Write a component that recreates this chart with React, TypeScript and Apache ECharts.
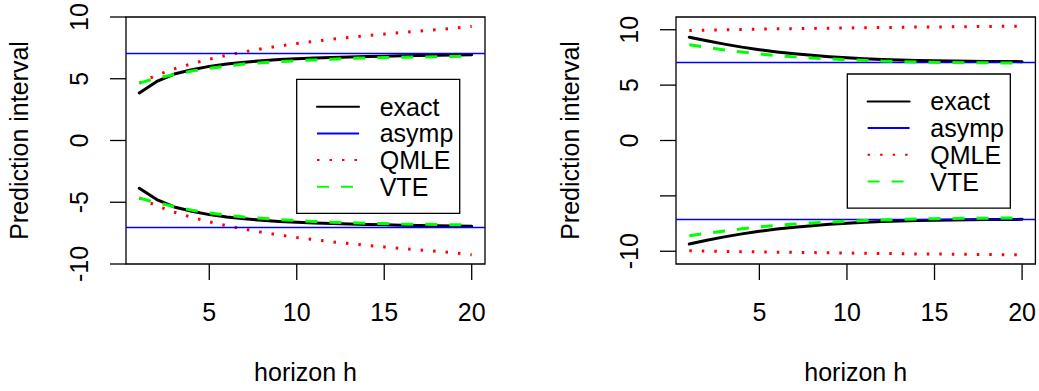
import React, { useEffect, useRef } from "react";
import * as echarts from "echarts";

// ---- data ----
const horizon = [1, 2, 3, 4, 5, 6, 7, 8, 9, 10, 11, 12, 13, 14, 15, 16, 17, 18, 19, 20];
const legendNames = ["exact", "asymp", "QMLE", "VTE"];
const xTicks = [5, 10, 15, 20];
const yTicks = [-10, -5, 0, 5, 10];
const yLabelsLeft = [-10, -5, 0, 5, 10];
const yLabelsRight = [-10, 0, 5, 10];

// left panel
const exactUpL = [3.85, 4.78, 5.38, 5.73, 6.0, 6.19, 6.34, 6.46, 6.55, 6.62, 6.68, 6.73, 6.77, 6.8, 6.83, 6.86, 6.88, 6.9, 6.92, 6.94];
const exactLoL = [-3.87, -4.78, -5.38, -5.73, -6.0, -6.19, -6.34, -6.46, -6.55, -6.62, -6.68, -6.73, -6.77, -6.8, -6.83, -6.86, -6.88, -6.9, -6.92, -6.94];
const qmleUpL = [4.65, 5.3, 5.8, 6.22, 6.58, 6.9, 7.18, 7.43, 7.65, 7.85, 8.03, 8.2, 8.35, 8.49, 8.62, 8.74, 8.86, 8.97, 9.1, 9.24];
const qmleLoL = [-4.65, -5.3, -5.8, -6.22, -6.58, -6.9, -7.18, -7.43, -7.65, -7.85, -8.03, -8.2, -8.35, -8.49, -8.62, -8.74, -8.86, -8.97, -9.1, -9.26];
const vteUpL = [4.65, 5.05, 5.35, 5.62, 5.85, 6.03, 6.19, 6.29, 6.38, 6.46, 6.52, 6.58, 6.64, 6.69, 6.72, 6.74, 6.76, 6.79, 6.81, 6.83];
const vteLoL = [-4.67, -5.05, -5.35, -5.64, -5.87, -6.05, -6.2, -6.3, -6.4, -6.48, -6.55, -6.61, -6.66, -6.7, -6.73, -6.76, -6.78, -6.8, -6.82, -6.83];
const asympL = [7.06, -7.06];

// right panel
const exactUpR = [9.33, 9.0, 8.7, 8.43, 8.2, 8.0, 7.83, 7.69, 7.57, 7.47, 7.39, 7.32, 7.27, 7.23, 7.2, 7.17, 7.15, 7.14, 7.13, 7.12];
const exactLoR = [-9.35, -9.0, -8.7, -8.43, -8.2, -8.0, -7.83, -7.69, -7.57, -7.47, -7.39, -7.32, -7.27, -7.23, -7.2, -7.17, -7.15, -7.14, -7.13, -7.12];
const qmleUpR = [9.93, 9.97, 10.0, 10.03, 10.06, 10.08, 10.1, 10.12, 10.14, 10.16, 10.18, 10.2, 10.22, 10.24, 10.25, 10.27, 10.28, 10.3, 10.31, 10.32];
const qmleLoR = [-9.95, -9.98, -10.01, -10.04, -10.06, -10.08, -10.1, -10.12, -10.14, -10.16, -10.18, -10.2, -10.22, -10.24, -10.25, -10.27, -10.28, -10.3, -10.31, -10.33];
const vteUpR = [8.64, 8.4, 8.18, 7.98, 7.81, 7.67, 7.55, 7.45, 7.36, 7.29, 7.23, 7.17, 7.13, 7.09, 7.06, 7.04, 7.02, 7.01, 7.0, 7.0];
const vteLoR = [-8.6, -8.38, -8.17, -7.97, -7.8, -7.66, -7.54, -7.44, -7.36, -7.29, -7.23, -7.17, -7.13, -7.09, -7.06, -7.04, -7.02, -7.01, -7.0, -7.0];
const asympR = [7.08, -7.08];

// axis limits (R's 4% padding around the data range)
const xLim = [0.24, 20.76];
const yLimL = [-10, 10];
const yLimR = [-11.15, 11.15];

const FONT = '"Liberation Sans", Arial, Helvetica, sans-serif';
const BLACK = "#000000";
const BLUE = "#0000ff";
const RED = "#ff0000";
const GREEN = "#00ff00";
const TICK_LEN = 16;

const GRIDS = [
  { left: 126, top: 17, width: 359, height: 247 },
  { left: 676, top: 17, width: 360, height: 247 },
];

const pts = (vals: number[]) => horizon.map((h, i) => [h, vals[i]]);

function panelSeries(idx: number, exU: number[], exL: number[], asy: number[], qU: number[], qL: number[], vU: number[], vL: number[]) {
  const base = { type: "line", xAxisIndex: idx, yAxisIndex: idx, showSymbol: false, symbol: "none", silent: true };
  const exactStyle = { color: BLACK, width: 3, type: "solid", cap: "round", join: "round" };
  const qmleStyle = { color: RED, width: 3, type: [2.5, 10], cap: "butt" };
  const vteStyle = { color: GREEN, width: 3, type: [12, 12], cap: "butt" };
  return [
    { ...base, name: "exact", color: BLACK, lineStyle: exactStyle, data: pts(exU), z: 2 },
    { ...base, name: "exact", color: BLACK, lineStyle: exactStyle, data: pts(exL), z: 2 },
    {
      ...base,
      name: "asymp",
      color: BLUE,
      lineStyle: { color: BLUE, width: 1.4, type: "solid" },
      data: [],
      z: 3,
      markLine: {
        silent: true,
        symbol: ["none", "none"],
        label: { show: false },
        lineStyle: { color: BLUE, width: 1.4, type: "solid" },
        data: asy.map((v) => ({ yAxis: v })),
      },
    },
    { ...base, name: "QMLE", color: RED, lineStyle: qmleStyle, data: pts(qU), z: 4 },
    { ...base, name: "QMLE", color: RED, lineStyle: qmleStyle, data: pts(qL), z: 4 },
    { ...base, name: "VTE", color: GREEN, lineStyle: vteStyle, data: pts(vU), z: 5 },
    { ...base, name: "VTE", color: GREEN, lineStyle: vteStyle, data: pts(vL), z: 5 },
  ];
}

function xAxisFor(idx: number) {
  return {
    type: "value",
    gridIndex: idx,
    min: xLim[0],
    max: xLim[1],
    position: "bottom",
    axisLine: { show: false, onZero: false },
    splitLine: { show: false },
    axisTick: { show: false },
    axisLabel: { show: true, customValues: xTicks, margin: 35, fontSize: 25, color: BLACK, fontFamily: FONT },
    name: "horizon h",
    nameLocation: "middle",
    nameGap: 95,
    nameTextStyle: { fontSize: 25, color: BLACK, fontFamily: FONT },
  };
}

function yAxisFor(idx: number, lim: number[], labels: number[], gap: number) {
  return {
    type: "value",
    gridIndex: idx,
    min: lim[0],
    max: lim[1],
    position: "left",
    axisLine: { show: false, onZero: false },
    splitLine: { show: false },
    axisTick: { show: false },
    axisLabel: { show: true, customValues: labels, rotate: 90, margin: 35, fontSize: 25, color: BLACK, fontFamily: FONT },
    name: "Prediction interval",
    nameLocation: "middle",
    nameGap: gap,
    nameTextStyle: { fontSize: 25, color: BLACK, fontFamily: FONT },
  };
}

function legendFor(left: number, top: number) {
  return {
    data: legendNames,
    orient: "vertical",
    left,
    top,
    selectedMode: false,
    padding: [14.4, 6.4, 13.6, 19.3],
    itemWidth: 42,
    itemHeight: 14,
    itemGap: 0.7,
    borderColor: BLACK,
    borderWidth: 1.3,
    backgroundColor: "#ffffff",
    itemStyle: { opacity: 0 },
    textStyle: { fontSize: 25, lineHeight: 26, color: BLACK, fontFamily: FONT, padding: [0, 0, 0, 15.7] },
  };
}

function buildTicks(chart: any) {
  const lims = [yLimL, yLimR];
  const toX = (gi: number, v: number) => {
    let p: any = null;
    try {
      p = chart.convertToPixel({ xAxisIndex: gi }, v);
    } catch (e) {
      p = null;
    }
    if (typeof p === "number" && isFinite(p)) return p;
    const g = GRIDS[gi];
    return g.left + ((v - xLim[0]) / (xLim[1] - xLim[0])) * g.width;
  };
  const toY = (gi: number, v: number) => {
    let p: any = null;
    try {
      p = chart.convertToPixel({ yAxisIndex: gi }, v);
    } catch (e) {
      p = null;
    }
    if (typeof p === "number" && isFinite(p)) return p;
    const g = GRIDS[gi];
    const lim = lims[gi];
    return g.top + g.height - ((v - lim[0]) / (lim[1] - lim[0])) * g.height;
  };
  const els: any[] = [];
  [0, 1].forEach((gi) => {
    const yb = toY(gi, lims[gi][0]);
    const xl = toX(gi, xLim[0]);
    xTicks.forEach((t) => {
      const x = toX(gi, t);
      els.push({ type: "line", silent: true, z: 100, shape: { x1: x, y1: yb, x2: x, y2: yb + TICK_LEN }, style: { stroke: BLACK, lineWidth: 1.3 } });
    });
    yTicks.forEach((t) => {
      const y = toY(gi, t);
      els.push({ type: "line", silent: true, z: 100, shape: { x1: xl - TICK_LEN, y1: y, x2: xl, y2: y }, style: { stroke: BLACK, lineWidth: 1.3 } });
    });
  });
  return els;
}

export default function App() {
  const ref = useRef<HTMLDivElement>(null);
  useEffect(() => {
    if (!ref.current) return;
    const chart = echarts.init(ref.current, undefined, { renderer: "svg" });
    try {
      chart.setOption({
        animation: false,
        backgroundColor: "#ffffff",
        textStyle: { fontFamily: FONT },
        grid: GRIDS.map((g) => ({ ...g, show: true, borderColor: BLACK, borderWidth: 1.3, backgroundColor: "transparent" })),
        xAxis: [xAxisFor(0), xAxisFor(1)],
        yAxis: [yAxisFor(0, yLimL, yLabelsLeft, 95), yAxisFor(1, yLimR, yLabelsRight, 94)],
        legend: [legendFor(296.7, 79.3), legendFor(847.3, 74)],
        series: [
          ...panelSeries(0, exactUpL, exactLoL, asympL, qmleUpL, qmleLoL, vteUpL, vteLoL),
          ...panelSeries(1, exactUpR, exactLoR, asympR, qmleUpR, qmleLoR, vteUpR, vteLoR),
        ],
      });
    } catch (e) {
      // continue: draw tick marks anyway
    }
    try {
      chart.setOption({ graphic: { elements: buildTicks(chart) } });
    } catch (e) {
      // ignore
    }
    return () => chart.dispose();
  }, []);
  return <div ref={ref} style={{ position: "fixed", left: 0, top: 0, width: 1039, height: 391, background: "#fff" }} />;
}
